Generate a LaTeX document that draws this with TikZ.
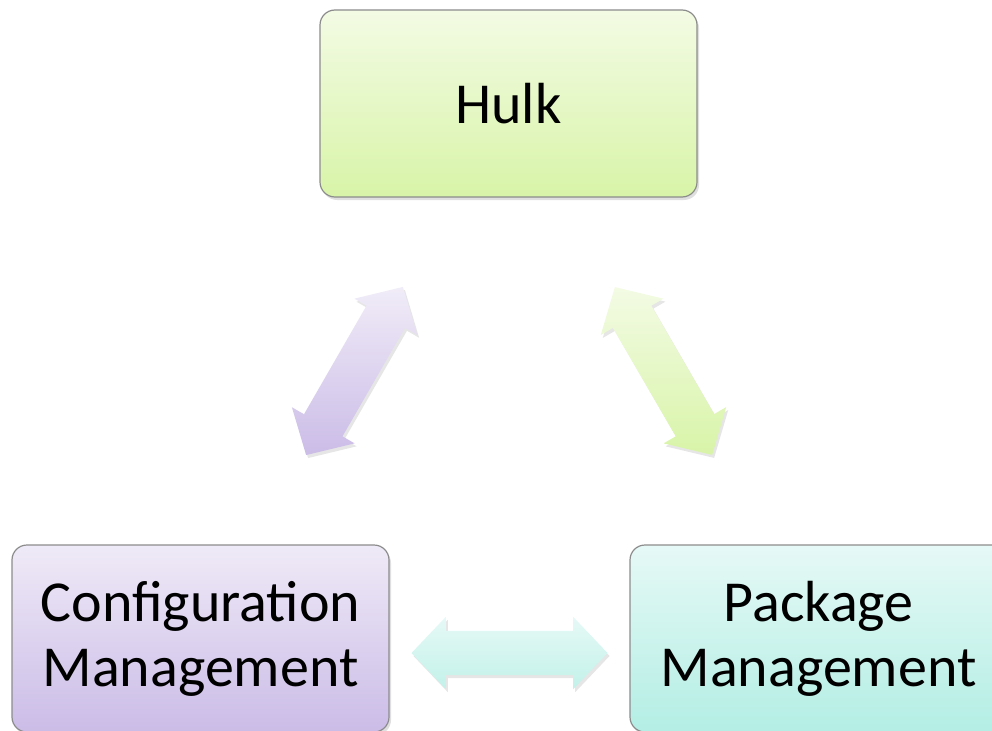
\documentclass[tikz,border=0pt]{standalone}
\usepackage{fontspec}
\setmainfont{Carlito}
\usepackage{xcolor}
\usepackage{tikz}
\usetikzlibrary{shapes.arrows,shadows}
\definecolor{hulktop}{HTML}{F3FBE4}
\definecolor{hulkbot}{HTML}{D8F4A8}
\definecolor{conftop}{HTML}{EFEAF7}
\definecolor{confbot}{HTML}{CBBCE7}
\definecolor{pkgtop}{HTML}{E6F9F6}
\definecolor{pkgbot}{HTML}{B3EEE4}
\tikzstyle{process} = [rectangle, rounded corners=15pt, minimum width=377pt, minimum height=187pt, text centered, text width=340pt, draw=gray!90, line width=1.2pt, font=\fontsize{58}{65}\selectfont, drop shadow={shadow xshift=2pt, shadow yshift=-3pt, opacity=0.25}]
\tikzstyle{link} = [double arrow, minimum height=194pt, minimum width=72pt, double arrow head extend=14pt, double arrow tip angle=93, inner xsep=0pt, inner ysep=22pt, drop shadow={shadow xshift=2pt, shadow yshift=-3pt, opacity=0.2}]

\begin{document}
\begin{tikzpicture}[x=1pt, y=1pt, node distance = 535pt]
\useasboundingbox (0,0) rectangle (992,-730);

\node(hulk) [process, top color=hulktop, bottom color=hulkbot] at (508.5,-103.5) {Hulk};
\node(config) [process, below of = hulk, xshift=-308pt, top color=conftop, bottom color=confbot] {Configuration\\Management};
\node(package) [process, below of = hulk, xshift=310pt, top color=pkgtop, bottom color=pkgbot] {Package\\Management};

\path (hulk.center) -- (config.center) node[link, midway, sloped, top color=conftop!90, bottom color=confbot] {};
\path (hulk.center) -- (package.center) node[link, midway, sloped, top color=hulktop, bottom color=hulkbot] {};
\path ([yshift=-14.5pt]config.east) -- ([yshift=-14.5pt]package.west) node[link, midway, minimum height=196pt, top color=pkgtop, bottom color=pkgbot!80] {};

\end{tikzpicture}
\end{document}
